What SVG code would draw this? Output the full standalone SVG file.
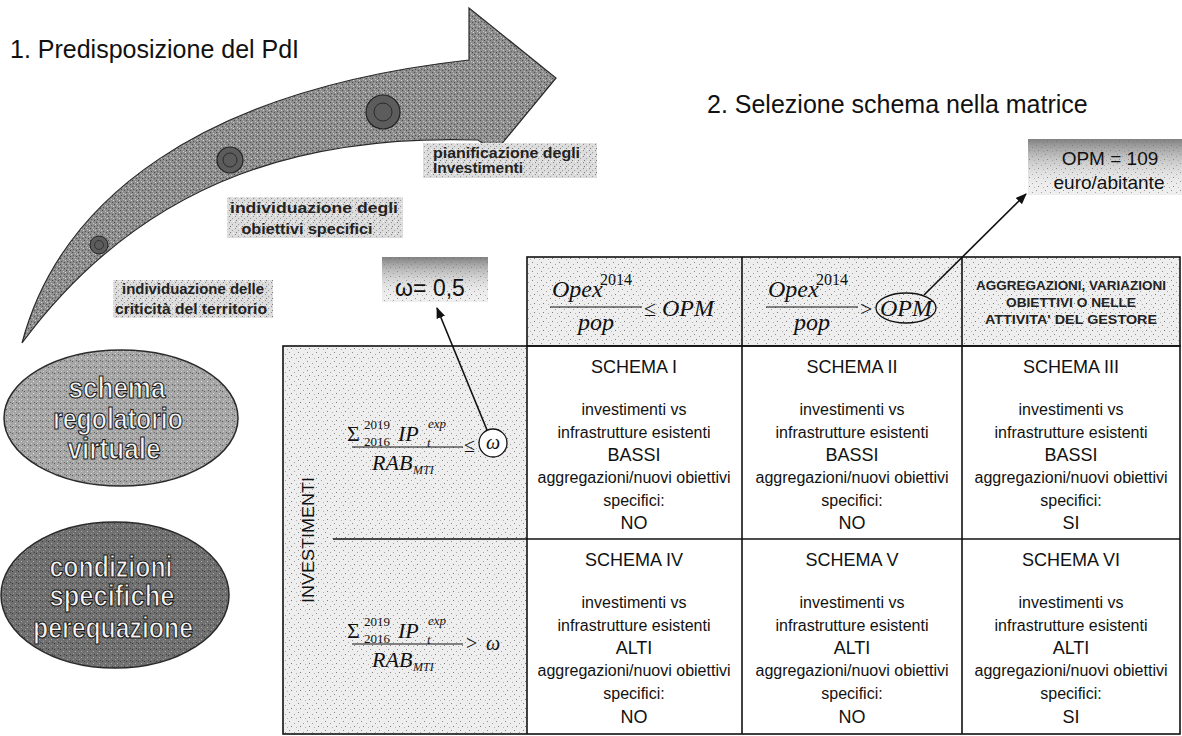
<svg xmlns="http://www.w3.org/2000/svg" width="1182" height="736" viewBox="0 0 1182 736">
<defs>
<style>
.sans{font-family:"Liberation Sans",Arial,sans-serif;fill:#111}
.title{font-size:25px}
.cell{font-size:16px;text-anchor:middle}
.big{font-size:18px;text-anchor:middle}
.hdr{font-size:13px;text-anchor:middle;font-weight:bold;fill:#222}
.lbl{font-size:15px;font-weight:bold;fill:#222}
.math{font-family:"Liberation Serif","DejaVu Serif",serif;font-style:italic;fill:#111}
.up{font-style:normal}
.grid{stroke:#111;stroke-width:1.6;fill:none}
.ell-t{font-family:"Liberation Sans",Arial,sans-serif;font-weight:bold;font-size:29px;text-anchor:middle;fill:#f4f4f4;stroke:#1a1a1a;stroke-width:1.1}
.conn{stroke:#111;stroke-width:1.6;fill:none}
</style>
<pattern id="pLight" width="9" height="9" patternUnits="userSpaceOnUse">
<rect width="9" height="9" fill="#eeeeee"/>
<rect x="1" y="1" width="1" height="1" fill="#8a8a8a"/>
<rect x="6" y="3" width="1" height="1" fill="#a0a0a0"/>
<rect x="3" y="6" width="1" height="1" fill="#7a7a7a"/>
<rect x="8" y="7" width="1" height="1" fill="#b0b0b0"/>
</pattern>
<pattern id="pMid" width="6" height="6" patternUnits="userSpaceOnUse">
<rect width="6" height="6" fill="#dcdcdc"/>
<rect x="1" y="0" width="1" height="1" fill="#8c8c8c"/>
<rect x="4" y="2" width="1" height="1" fill="#9a9a9a"/>
<rect x="2" y="4" width="1" height="1" fill="#7c7c7c"/>
<rect x="5" y="5" width="1" height="1" fill="#f8f8f8"/>
</pattern>
<pattern id="pArrow" width="6" height="6" patternUnits="userSpaceOnUse">
<rect width="6" height="6" fill="#8e8e8e"/>
<rect x="0" y="0" width="1" height="1" fill="#4a4a4a"/>
<rect x="3" y="1" width="1" height="1" fill="#c4c4c4"/>
<rect x="1" y="3" width="1" height="1" fill="#555"/>
<rect x="4" y="4" width="1" height="1" fill="#4e4e4e"/>
<rect x="5" y="2" width="1" height="1" fill="#d0d0d0"/>
<rect x="2" y="5" width="1" height="1" fill="#bcbcbc"/>
</pattern>
<pattern id="pEll1" width="6" height="6" patternUnits="userSpaceOnUse">
<rect width="6" height="6" fill="#a6a6a6"/>
<rect x="0" y="1" width="1" height="1" fill="#5a5a5a"/>
<rect x="3" y="3" width="1" height="1" fill="#dadada"/>
<rect x="4" y="0" width="1" height="1" fill="#666"/>
<rect x="1" y="5" width="1" height="1" fill="#d0d0d0"/>
</pattern>
<pattern id="pEll2" width="6" height="6" patternUnits="userSpaceOnUse">
<rect width="6" height="6" fill="#707070"/>
<rect x="0" y="1" width="1" height="1" fill="#3a3a3a"/>
<rect x="3" y="3" width="1" height="1" fill="#a8a8a8"/>
<rect x="4" y="0" width="1" height="1" fill="#444"/>
<rect x="1" y="5" width="1" height="1" fill="#9a9a9a"/>
</pattern>
<linearGradient id="gTop" x1="0" y1="0" x2="0" y2="1">
<stop offset="0" stop-color="#6e6e6e" stop-opacity="0.85"/>
<stop offset="0.35" stop-color="#9a9a9a" stop-opacity="0.5"/>
<stop offset="1" stop-color="#ffffff" stop-opacity="0"/>
</linearGradient>
<marker id="ah" viewBox="0 0 10 10" refX="9" refY="5" markerWidth="7" markerHeight="7" orient="auto">
<path d="M0,1 L10,5 L0,9 z" fill="#111"/>
</marker>
</defs>
<rect width="1182" height="736" fill="#ffffff"/>

<g id="titles">
<text class="sans title" x="10" y="58">1. Predisposizione del PdI</text>
<text class="sans title" x="707" y="113">2. Selezione schema nella matrice</text>
</g>

<g id="process-arrow">
<path d="M22,343 C60,200 200,90 469,60 L469,8 L556,78 L495,152 L478,140 C320,135 150,170 22,343 Z" fill="url(#pArrow)" stroke="#2a2a2a" stroke-width="1.2"/>
<circle cx="383" cy="112" r="17" fill="#5c5c5c" stroke="#222" stroke-width="1.2"/>
<circle cx="383" cy="112" r="9" fill="none" stroke="#2a2a2a" stroke-width="1"/>
<circle cx="230" cy="160" r="13" fill="#5c5c5c" stroke="#222" stroke-width="1.2"/>
<circle cx="230" cy="160" r="7" fill="none" stroke="#2a2a2a" stroke-width="1"/>
<circle cx="99" cy="245" r="9" fill="#5c5c5c" stroke="#222" stroke-width="1"/>
<circle cx="99" cy="245" r="4.5" fill="none" stroke="#2a2a2a" stroke-width="0.8"/>
</g>

<g id="label-criticita">
<rect x="113" y="280" width="160" height="38" fill="url(#pMid)"/>
<text class="sans lbl" x="193" y="294" text-anchor="middle" textLength="142" lengthAdjust="spacingAndGlyphs">individuazione delle</text>
<text class="sans lbl" x="191" y="314" text-anchor="middle" textLength="152" lengthAdjust="spacingAndGlyphs">criticità del territorio</text>
</g>

<g id="label-obiettivi">
<rect x="227" y="197" width="176" height="41" fill="url(#pMid)"/>
<text class="sans lbl" x="314" y="213" text-anchor="middle" textLength="168" lengthAdjust="spacingAndGlyphs">individuazione degli</text>
<text class="sans lbl" x="307" y="234" text-anchor="middle" textLength="131" lengthAdjust="spacingAndGlyphs">obiettivi specifici</text>
</g>

<g id="label-pianificazione">
<rect x="423" y="143" width="174" height="35" fill="url(#pMid)"/>
<text class="sans lbl" x="433" y="158" textLength="147" lengthAdjust="spacingAndGlyphs">pianificazione degli</text>
<text class="sans lbl" x="433" y="173" textLength="90" lengthAdjust="spacingAndGlyphs">Investimenti</text>
</g>

<g id="omega-box">
<rect x="382" y="257" width="106" height="45" fill="url(#pLight)"/>
<rect x="382" y="257" width="106" height="45" fill="url(#gTop)"/>
<text class="sans" x="430" y="296" font-size="23" text-anchor="middle">ω= 0,5</text>
</g>

<g id="opm-box">
<rect x="1028" y="139" width="154" height="56" fill="url(#pLight)"/>
<rect x="1028" y="139" width="154" height="56" fill="url(#gTop)"/>
<text class="sans" x="1110" y="165" font-size="19" text-anchor="middle">OPM = 109</text>
<text class="sans" x="1109" y="189" font-size="19" text-anchor="middle">euro/abitante</text>
</g>

<g id="ellipse-virtuale">
<ellipse cx="121" cy="418" rx="117" ry="68" fill="url(#pEll1)" stroke="#2a2a2a" stroke-width="1.5"/>
<text class="ell-t" x="117" y="398" textLength="97" lengthAdjust="spacingAndGlyphs">schema</text>
<text class="ell-t" x="118" y="429" textLength="130" lengthAdjust="spacingAndGlyphs">regolatorio</text>
<text class="ell-t" x="114" y="459" textLength="93" lengthAdjust="spacingAndGlyphs">virtuale</text>
</g>

<g id="ellipse-perequazione">
<ellipse cx="115" cy="595" rx="114" ry="73" fill="url(#pEll2)" stroke="#2a2a2a" stroke-width="1.5"/>
<text class="ell-t" x="111" y="577" textLength="123" lengthAdjust="spacingAndGlyphs">condizioni</text>
<text class="ell-t" x="112" y="606" textLength="125" lengthAdjust="spacingAndGlyphs">specifiche</text>
<text class="ell-t" x="113" y="638" textLength="160" lengthAdjust="spacingAndGlyphs">perequazione</text>
</g>

<g id="matrix">
<rect x="527" y="257" width="653" height="89" fill="url(#pLight)"/>
<rect x="283" y="346" width="244" height="388" fill="url(#pLight)"/>
<rect x="527" y="346" width="653" height="388" fill="#ffffff"/>
<rect x="527" y="257" width="653" height="89" class="grid"/>
<line x1="742" y1="257" x2="742" y2="734" class="grid"/>
<line x1="962" y1="257" x2="962" y2="734" class="grid"/>
<rect x="283" y="346" width="897" height="388" class="grid"/>
<line x1="527" y1="346" x2="527" y2="734" class="grid"/>
<line x1="333" y1="539" x2="1180" y2="539" class="grid"/>
</g>

<g id="header-opex-le">
<text class="math" x="552" y="297" font-size="24">Opex</text>
<text class="math up" x="600" y="285" font-size="16">2014</text>
<line x1="550" y1="307" x2="642" y2="307" stroke="#111" stroke-width="1.2"/>
<text class="math" x="596" y="330" font-size="24" text-anchor="middle">pop</text>
<text class="math up" x="644" y="316" font-size="22">≤</text>
<text class="math" x="662" y="316" font-size="24">OPM</text>
</g>

<g id="header-opex-gt">
<text class="math" x="768" y="297" font-size="24">Opex</text>
<text class="math up" x="816" y="285" font-size="16">2014</text>
<line x1="766" y1="307" x2="858" y2="307" stroke="#111" stroke-width="1.2"/>
<text class="math" x="812" y="330" font-size="24" text-anchor="middle">pop</text>
<text class="math up" x="860" y="316" font-size="22">&gt;</text>
<text class="math" x="880" y="316" font-size="24">OPM</text>
<ellipse cx="906" cy="308" rx="30" ry="15" fill="none" stroke="#111" stroke-width="1.3"/>
</g>

<g id="header-aggregazioni">
<text class="sans hdr" x="1071" y="290" textLength="190" lengthAdjust="spacingAndGlyphs">AGGREGAZIONI, VARIAZIONI</text>
<text class="sans hdr" x="1071" y="307" textLength="130" lengthAdjust="spacingAndGlyphs">OBIETTIVI O NELLE</text>
<text class="sans hdr" x="1071" y="324" textLength="172" lengthAdjust="spacingAndGlyphs">ATTIVITA' DEL GESTORE</text>
</g>

<g id="investimenti-label">
<text class="sans" transform="translate(314,540) rotate(-90)" font-size="17" text-anchor="middle" textLength="126" lengthAdjust="spacingAndGlyphs">INVESTIMENTI</text>
</g>

<g id="formula-le-omega">
<text class="math up" x="347" y="441" font-size="22">Σ</text>
<text class="math up" x="364" y="429" font-size="13">2019</text>
<text class="math up" x="364" y="446" font-size="13">2016</text>
<text class="math" x="398" y="441" font-size="22">IP</text>
<text class="math" x="428" y="428" font-size="13">exp</text>
<text class="math" x="427" y="447" font-size="13">t</text>
<line x1="352" y1="447" x2="463" y2="447" stroke="#111" stroke-width="1.2"/>
<text class="math" x="372" y="470" font-size="22">RAB</text>
<text class="math" x="413" y="474" font-size="12">MTI</text>
<text class="math up" x="464" y="452" font-size="20">≤</text>
<circle cx="493" cy="443" r="14" fill="#ffffff" stroke="#111" stroke-width="1.3"/>
<text class="math" x="493" y="449" font-size="20" text-anchor="middle">ω</text>
</g>

<g id="formula-gt-omega">
<text class="math up" x="347" y="638" font-size="22">Σ</text>
<text class="math up" x="364" y="626" font-size="13">2019</text>
<text class="math up" x="364" y="643" font-size="13">2016</text>
<text class="math" x="398" y="638" font-size="22">IP</text>
<text class="math" x="428" y="625" font-size="13">exp</text>
<text class="math" x="427" y="644" font-size="13">t</text>
<line x1="352" y1="644" x2="463" y2="644" stroke="#111" stroke-width="1.2"/>
<text class="math" x="372" y="667" font-size="22">RAB</text>
<text class="math" x="413" y="671" font-size="12">MTI</text>
<text class="math up" x="466" y="650" font-size="20">&gt;</text>
<text class="math" x="486" y="650" font-size="20">ω</text>
</g>

<g id="schema-I">
<text class="sans big" x="634" y="373">SCHEMA I</text>
<text class="sans cell" x="634" y="415">investimenti vs</text>
<text class="sans cell" x="634" y="438">infrastrutture esistenti</text>
<text class="sans big" x="634" y="461">BASSI</text>
<text class="sans cell" x="634" y="483">aggregazioni/nuovi obiettivi</text>
<text class="sans cell" x="634" y="506">specifici:</text>
<text class="sans big" x="634" y="529">NO</text>
</g>
<g id="schema-II">
<text class="sans big" x="852" y="373">SCHEMA II</text>
<text class="sans cell" x="852" y="415">investimenti vs</text>
<text class="sans cell" x="852" y="438">infrastrutture esistenti</text>
<text class="sans big" x="852" y="461">BASSI</text>
<text class="sans cell" x="852" y="483">aggregazioni/nuovi obiettivi</text>
<text class="sans cell" x="852" y="506">specifici:</text>
<text class="sans big" x="852" y="529">NO</text>
</g>
<g id="schema-III">
<text class="sans big" x="1071" y="373">SCHEMA III</text>
<text class="sans cell" x="1071" y="415">investimenti vs</text>
<text class="sans cell" x="1071" y="438">infrastrutture esistenti</text>
<text class="sans big" x="1071" y="461">BASSI</text>
<text class="sans cell" x="1071" y="483">aggregazioni/nuovi obiettivi</text>
<text class="sans cell" x="1071" y="506">specifici:</text>
<text class="sans big" x="1071" y="529">SI</text>
</g>
<g id="schema-IV">
<text class="sans big" x="634" y="566">SCHEMA IV</text>
<text class="sans cell" x="634" y="608">investimenti vs</text>
<text class="sans cell" x="634" y="631">infrastrutture esistenti</text>
<text class="sans big" x="634" y="654">ALTI</text>
<text class="sans cell" x="634" y="676">aggregazioni/nuovi obiettivi</text>
<text class="sans cell" x="634" y="699">specifici:</text>
<text class="sans big" x="634" y="723">NO</text>
</g>
<g id="schema-V">
<text class="sans big" x="852" y="566">SCHEMA V</text>
<text class="sans cell" x="852" y="608">investimenti vs</text>
<text class="sans cell" x="852" y="631">infrastrutture esistenti</text>
<text class="sans big" x="852" y="654">ALTI</text>
<text class="sans cell" x="852" y="676">aggregazioni/nuovi obiettivi</text>
<text class="sans cell" x="852" y="699">specifici:</text>
<text class="sans big" x="852" y="723">NO</text>
</g>
<g id="schema-VI">
<text class="sans big" x="1071" y="566">SCHEMA VI</text>
<text class="sans cell" x="1071" y="608">investimenti vs</text>
<text class="sans cell" x="1071" y="631">infrastrutture esistenti</text>
<text class="sans big" x="1071" y="654">ALTI</text>
<text class="sans cell" x="1071" y="676">aggregazioni/nuovi obiettivi</text>
<text class="sans cell" x="1071" y="699">specifici:</text>
<text class="sans big" x="1071" y="723">SI</text>
</g>

<g id="connectors">
<line x1="487" y1="430" x2="437" y2="308" class="conn" marker-end="url(#ah)"/>
<line x1="924" y1="295" x2="1026" y2="194" class="conn" marker-end="url(#ah)"/>
</g>
</svg>
